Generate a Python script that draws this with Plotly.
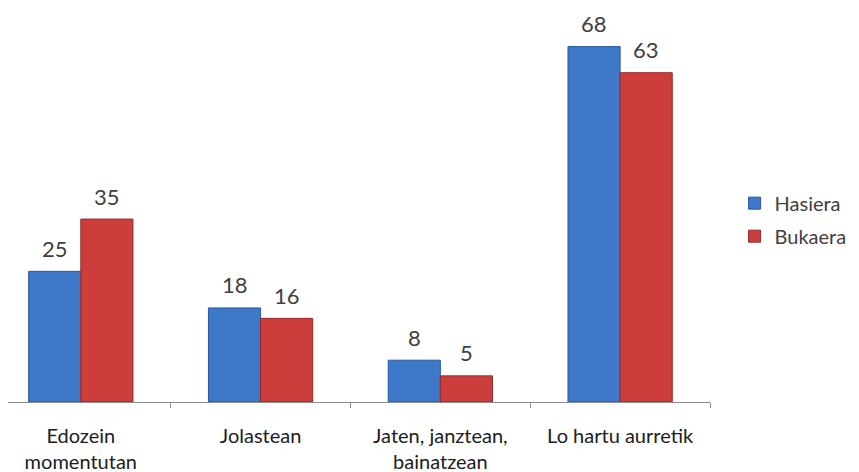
import plotly.graph_objects as go

categories = ["Edozein<br>momentutan", "Jolastean", "Jaten, janztean,<br>bainatzean", "Lo hartu aurretik"]
hasiera = [25, 18, 8, 68]
bukaera = [35, 16, 5, 63]
series_names = ["Hasiera", "Bukaera"]

font_family = "Lato, 'Open Sans', sans-serif"
text_color = "#404040"
colors = ["#3d79c8", "#cc3d3b"]
edge_colors = ["#2a5a9c", "#962a28"]

fig = go.Figure()
for name, vals, col, ecol, grp in zip(series_names, [hasiera, bukaera], colors, edge_colors, ["a", "b"]):
    fig.add_trace(go.Bar(
        x=categories, y=vals, name=name, legendgroup=grp,
        marker=dict(color=col, line=dict(color=ecol, width=1)),
    ))

# data labels
for vals, shift in [(hasiera, -26), (bukaera, 26)]:
    for c, v in zip(categories, vals):
        fig.add_annotation(x=c, y=v, text=str(v), showarrow=False,
                           xshift=shift, yshift=23, yanchor="middle",
                           font=dict(size=22, color=text_color, family=font_family))

fig.update_layout(
    width=859, height=472,
    margin=dict(l=0, r=157, t=2, b=78),
    paper_bgcolor="white", plot_bgcolor="white",
    barmode="group", bargap=0.42, bargroupgap=0.0,
    font=dict(family=font_family, size=20, color=text_color),
    showlegend=True,
    legend=dict(x=1.035, y=0.557, xanchor="left", yanchor="top",
                font=dict(size=20, color=text_color), tracegroupgap=4,
                traceorder="grouped", itemwidth=30),
    xaxis=dict(
        range=[-0.405, 3.5], showgrid=False, showline=True, linecolor="#8c8c8c",
        linewidth=1, ticks="outside", tickson="boundaries", ticklen=5,
        tickcolor="#8c8c8c", ticklabelstandoff=16,
        tickfont=dict(size=20, color="#202020", family=font_family),
    ),
    yaxis=dict(range=[0, 75], showgrid=False, showticklabels=False, zeroline=False,
               showline=False),
)

fig.write_html("out.html")
